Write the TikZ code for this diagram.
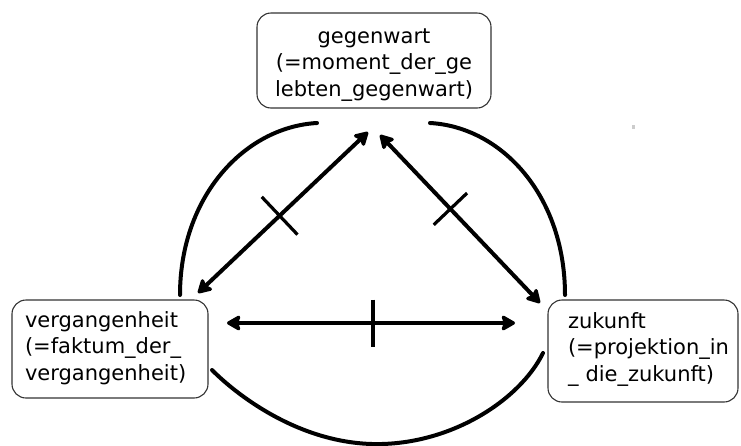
\documentclass[tikz,border=0pt]{standalone}
\usepackage{fontspec}
\setmainfont{DejaVu Sans}
\usetikzlibrary{arrows.meta,calc}
\begin{document}
\begin{tikzpicture}[x=1pt,y=-1pt,
  box/.style={draw=black!80, line width=1.1pt, rounded corners=14pt, fill=white,
    inner sep=0pt, text=black, font=\fontsize{21}{26.5}\selectfont},
  tip/.tip={Stealth[length=16pt,width=18pt,inset=3pt,round]},
  link/.style={line width=4pt, tip-tip},
  crossbar/.style={line width=3.2pt},
  rim/.style={line width=4pt, line cap=round}]
\useasboundingbox (0,0) rectangle (741,445);

% the round frame, open at the top and behind the side boxes
\draw[rim] (317,123) .. controls (245,127) and (180,196) .. (180,295);
\draw[rim] (430,123) .. controls (502,127) and (565,196) .. (565,295);
\draw[rim] (212,370) .. controls (240,398) and (300,442) .. (372,444)
                     .. controls (450,446) and (520,400) .. (543,353);

% the three time boxes
\node[box, minimum width=234pt, minimum height=95pt, text width=215pt,
      align=center, text height=16pt, text depth=51pt] (now) at (374,60.5)
  {\mbox{gegenwart}\\\mbox{(=moment\_der\_ge}\\\mbox{lebten\_gegenwart)}};
\node[box, minimum width=196pt, minimum height=98pt, text width=170pt,
      align=left, text height=16pt, text depth=60pt] (past) at (110,349)
  {\mbox{vergangenheit}\\\mbox{(=faktum\_der\_}\\\mbox{vergangenheit)}};
\node[box, minimum width=190pt, minimum height=102pt, text width=150pt,
      align=left, text height=16pt, text depth=62pt] (future) at (643,351)
  {\mbox{zukunft}\\\mbox{(=projektion\_in}\\\mbox{\_ die\_zukunft)}};

% arrow ends
\coordinate (past-up)    at (198,293);
\coordinate (now-left)   at (368,132);
\coordinate (now-right)  at (380,135);
\coordinate (future-up)  at (540,303);
\coordinate (past-side)  at (227,323);
\coordinate (future-side) at (515,323);

% double arrows between the boxes
\draw[link] (past-up) -- (now-left);
\draw[link] (now-right) -- (future-up);
\draw[link] (past-side) -- (future-side);

% cross strokes on the arrows
\coordinate (m1) at ($(past-up)!0.48!(now-left)$);
\coordinate (m2) at ($(now-right)!0.44!(future-up)$);
\coordinate (m3) at ($(past-side)!0.507!(future-side)$);
\draw[crossbar] ($(m1)!26pt!90:(now-left)$) -- ($(m1)!26pt!-90:(now-left)$);
\draw[crossbar] ($(m2)!23pt!90:(future-up)$) -- ($(m2)!23pt!-90:(future-up)$);
\draw[crossbar] ($(m3)!23.5pt!90:(future-side)$) -- ($(m3)!23.5pt!-90:(future-side)$);

% small stray mark
\fill[black!20] (632,125) rectangle (634.5,128.5);
\end{tikzpicture}
\end{document}
